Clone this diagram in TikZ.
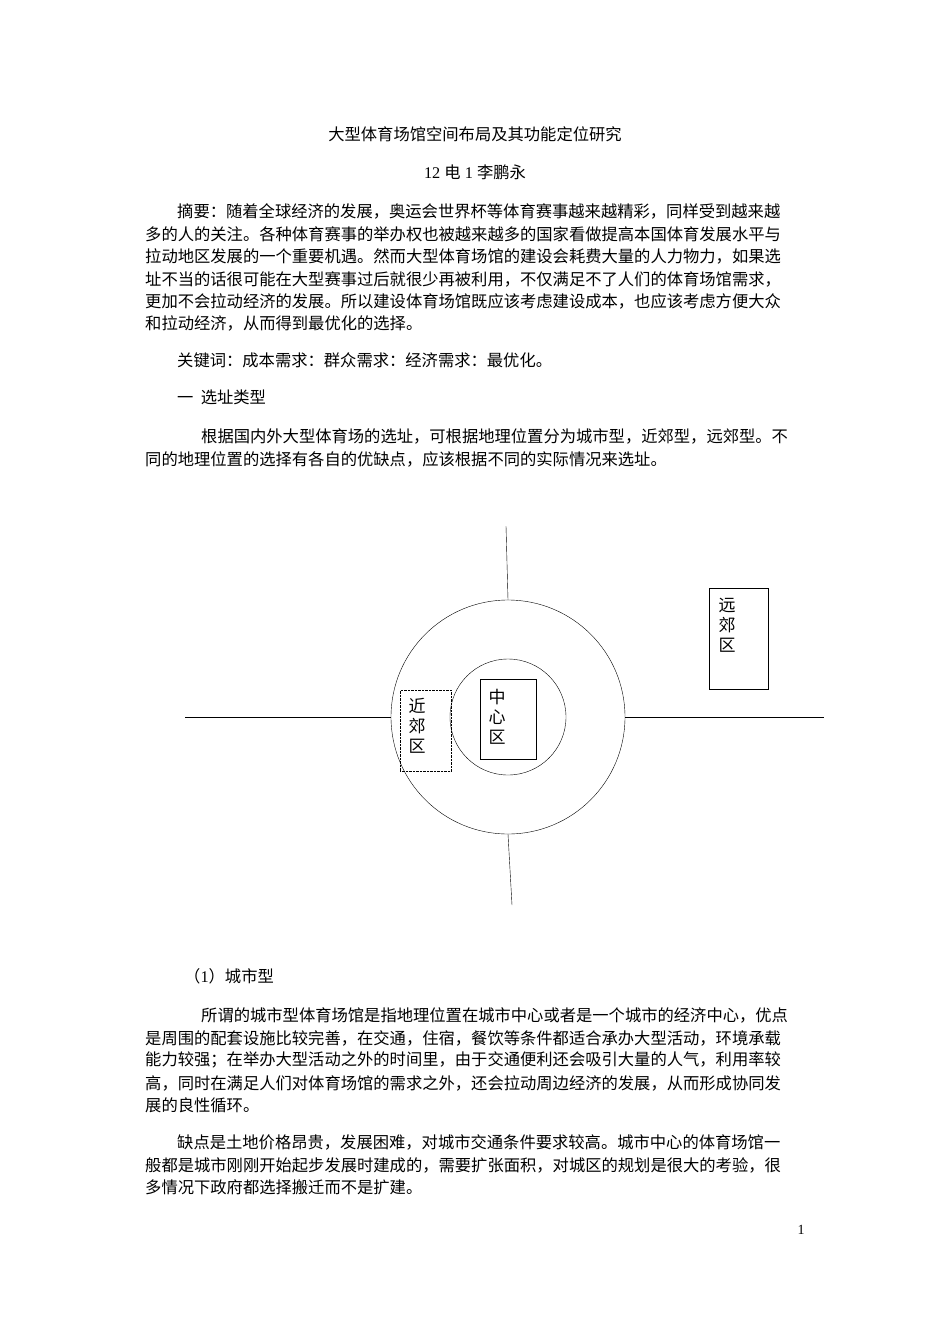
\documentclass[tikz,border=0pt]{standalone}
\usepackage{fontspec}
\newfontfamily\cjk{Noto Sans CJK SC}
\newfontfamily\ser{Liberation Serif}
\begin{document}
\begin{tikzpicture}[x=1pt,y=-1pt,
  tx/.style={anchor=west,inner sep=0pt,font=\cjk\fontsize{16.3}{18}\selectfont},
  vbox/.style={draw,inner sep=0pt,font=\cjk\fontsize{17}{20}\selectfont,align=center,anchor=north west}]
\useasboundingbox[fill=white] (0,0) rectangle (950,1344);
\node[tx,anchor=center] (t) at (475,134) {大型体育场馆空间布局及其功能定位研究};
\node[tx,anchor=center] (a) at (475,172) {{\ser 12 }电{\ser\ 1 }李鹏永};
\foreach \y/\s/\x in {
211/{摘要：随着全球经济的发展，奥运会世界杯等体育赛事越来越精彩，同样受到越来越}/177,
234/{多的人的关注。各种体育赛事的举办权也被越来越多的国家看做提高本国体育发展水平与}/145,
256/{拉动地区发展的一个重要机遇。然而大型体育场馆的建设会耗费大量的人力物力，如果选}/145,
279/{址不当的话很可能在大型赛事过后就很少再被利用，不仅满足不了人们的体育场馆需求，}/145,
301/{更加不会拉动经济的发展。所以建设体育场馆既应该考虑建设成本，也应该考虑方便大众}/145,
323/{和拉动经济，从而得到最优化的选择。}/145,
360/{关键词：成本需求：群众需求：经济需求：最优化。}/177,
397/{一\ \ 选址类型}/177,
436/{根据国内外大型体育场的选址，可根据地理位置分为城市型，近郊型，远郊型。不}/201,
459/{同的地理位置的选择有各自的优缺点，应该根据不同的实际情况来选址。}/145,
976/{（{\ser 1}）城市型}/184,
1015/{所谓的城市型体育场馆是指地理位置在城市中心或者是一个城市的经济中心，优点}/201,
1038/{是周围的配套设施比较完善，在交通，住宿，餐饮等条件都适合承办大型活动，环境承载}/145,
1060/{能力较强；在举办大型活动之外的时间里，由于交通便利还会吸引大量的人气，利用率较}/145,
1083/{高，同时在满足人们对体育场馆的需求之外，还会拉动周边经济的发展，从而形成协同发}/145,
1105/{展的良性循环。}/145,
1142/{缺点是土地价格昂贵，发展困难，对城市交通条件要求较高。城市中心的体育场馆一}/177,
1165/{般都是城市刚刚开始起步发展时建成的，需要扩张面积，对城区的规划是很大的考验，很}/145,
1187/{多情况下政府都选择搬迁而不是扩建。}/145}
  \node[tx] at (\x,\y) {\s};
\node[inner sep=0pt,font=\ser\fontsize{14}{16}\selectfont] (pg) at (801,1230) {1};
% diagram
\node[circle,draw,minimum size=234pt,inner sep=0pt] (oc) at (508,717) {};
\node[circle,draw,minimum size=116pt,inner sep=0pt] (ic) at (508,717) {};
\coordinate (l) at (185,717); \coordinate (r) at (824,717);
\coordinate (u) at (506,526); \coordinate (d) at (512,905);
\draw (l) -- (oc.west); \draw (oc.east) -- (r);
\draw (u) -- (oc.north); \draw (oc.south) -- (d);
\node[vbox,minimum width=59pt,minimum height=101pt] (yj) at (709,588) {};
\node[anchor=north,font=\cjk\fontsize{17}{20}\selectfont,align=center,inner sep=0pt] (yjt) at (727,598) {远\\郊\\区};
\node[vbox,minimum width=56pt,minimum height=80pt,fill=white] (zx) at (480,679) {};
\node[anchor=north,font=\cjk\fontsize{17}{20}\selectfont,align=center,inner sep=0pt] (zxt) at (497,689) {中\\心\\区};
\node[vbox,densely dotted,minimum width=51pt,minimum height=81pt] (jj) at (400,690) {};
\node[anchor=north,font=\cjk\fontsize{17}{20}\selectfont,align=center,inner sep=0pt] (jjt) at (417,698) {近\\郊\\区};
\end{tikzpicture}
\end{document}
